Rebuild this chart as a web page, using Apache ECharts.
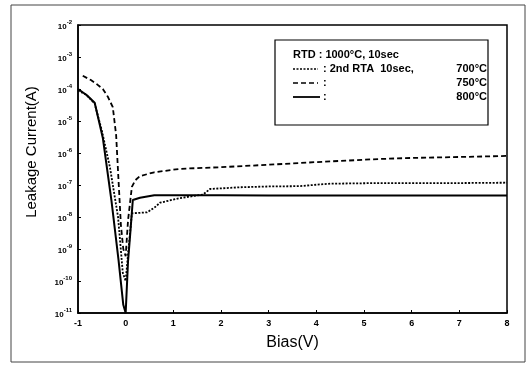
<!DOCTYPE html>
<html>
<head>
<meta charset="utf-8">
<script src="https://cdn.jsdelivr.net/npm/echarts@6/dist/echarts.min.js"></script>
<style>
  html, body { margin: 0; padding: 0; background: #fff; }
  #chart { width: 530px; height: 365px; }
</style>
</head>
<body>
<div id="chart"></div>
<script>
// bias (V) and leakage current (A)
var bias700 = [-1, -0.82, -0.65, -0.5, -0.33, -0.16, -0.06, 0, 0.06, 0.13, 0.45, 0.61, 0.72, 1.14, 1.28, 1.62, 1.77, 2.4, 3, 3.65, 4.1, 4.3, 5.33, 6, 7, 8];
var cur700 = [9e-5, 6.5e-5, 3.5e-5, 5e-6, 3.6e-7, 1e-8, 1.8e-10, 1e-10, 1e-9, 1.3e-8, 1.4e-8, 2e-8, 2.8e-8, 3.9e-8, 4.2e-8, 5e-8, 7.5e-8, 8.5e-8, 9e-8, 9.2e-8, 1.05e-7, 1.1e-7, 1.15e-7, 1.15e-7, 1.15e-7, 1.18e-7];

var bias750 = [-0.9, -0.73, -0.6, -0.48, -0.37, -0.27, -0.2, -0.15, -0.1, -0.05, 0, 0.05, 0.13, 0.2, 0.3, 0.6, 1.14, 2, 3, 4, 5.33, 6, 7, 8];
var cur750 = [2.6e-4, 1.9e-4, 1.4e-4, 1e-4, 5.6e-5, 2.7e-5, 3.6e-6, 1.4e-7, 5.6e-9, 1e-9, 6e-10, 8e-9, 8.7e-8, 1.4e-7, 1.9e-7, 2.5e-7, 3.2e-7, 3.6e-7, 4.3e-7, 5.2e-7, 6.5e-7, 7e-7, 7.5e-7, 8.1e-7];

var bias800 = [-1, -0.82, -0.65, -0.48, -0.3, -0.15, -0.05, 0, 0.05, 0.1, 0.15, 0.3, 0.6, 1, 2, 3, 4, 5, 6, 7, 8];
var cur800 = [1e-4, 6.5e-5, 3.7e-5, 3e-6, 3.4e-8, 4.6e-10, 1.8e-11, 1e-11, 4.2e-10, 3.6e-9, 3.4e-8, 4e-8, 4.8e-8, 4.8e-8, 4.8e-8, 4.7e-8, 4.7e-8, 4.7e-8, 4.7e-8, 4.7e-8, 4.7e-8];

var xTicks = [-1, 0, 1, 2, 3, 4, 5, 6, 7, 8];
var yMinExp = -11, yMaxExp = -2;

function zip(xs, ys) {
    return xs.map(function (x, i) { return [x, ys[i]]; });
}

const chart = echarts.init(document.getElementById('chart'));

var FONT = 'Liberation Sans';

option = {
    backgroundColor: '#fff',
    animation: false,
    grid: {
        left: 78, top: 25, right: 23, bottom: 52,
        show: true,
        borderColor: '#000',
        borderWidth: 1.5
    },
    xAxis: {
        type: 'value',
        min: xTicks[0],
        max: xTicks[xTicks.length - 1],
        interval: 1,
        name: 'Bias(V)',
        nameLocation: 'middle',
        nameGap: 22,
        nameTextStyle: { fontFamily: FONT, fontSize: 16, color: '#000' },
        axisLine: { onZero: false, lineStyle: { color: '#000', width: 1.5 } },
        axisTick: { inside: true, length: 3, lineStyle: { color: '#000' } },
        axisLabel: { fontFamily: FONT, fontSize: 9, fontWeight: 'bold', color: '#000', margin: 6 },
        splitLine: { show: false }
    },
    yAxis: {
        type: 'log',
        logBase: 10,
        min: Math.pow(10, yMinExp),
        max: Math.pow(10, yMaxExp),
        splitNumber: 9,
        axisLine: { onZero: false, lineStyle: { color: '#000', width: 1.5 } },
        axisTick: { inside: true, length: 3, lineStyle: { color: '#000' } },
        axisLabel: {
            margin: 6,
            formatter: function (v) {
                var e = Math.round(Math.log10(v));
                return '{b|10}{s|' + e + '}';
            },
            rich: {
                b: { fontFamily: FONT, fontSize: 8, fontWeight: 'bold', color: '#000', verticalAlign: 'bottom', lineHeight: 12 },
                s: { fontFamily: FONT, fontSize: 6, fontWeight: 'bold', color: '#000', verticalAlign: 'top', lineHeight: 12, padding: [0, 0, 4, 0] }
            }
        },
        splitLine: { show: false }
    },
    graphic: [
        // page border
        { type: 'rect', shape: { x: 11, y: 5, width: 514, height: 357 },
          style: { fill: 'none', stroke: '#444', lineWidth: 1 }, z: 0 },
        // y axis name
        { type: 'text', x: 32, y: 152, rotation: Math.PI / 2,
          style: { text: 'Leakage Current(A)', fontFamily: FONT, fontSize: 15, fill: '#000', align: 'center', verticalAlign: 'middle' } },
        // legend box
        { type: 'rect', shape: { x: 275, y: 40, width: 213, height: 85 },
          style: { fill: '#fff', stroke: '#000', lineWidth: 1.2 }, z: 10 },
        { type: 'text', x: 293, y: 55, z: 11,
          style: { text: 'RTD : 1000°C, 10sec', fontFamily: FONT, fontSize: 11, fontWeight: 'bold', fill: '#000', verticalAlign: 'middle' } },
        { type: 'line', z: 11, shape: { x1: 293, y1: 69, x2: 318, y2: 69 },
          style: { stroke: '#000', lineWidth: 1.5, lineDash: [2, 1.5] } },
        { type: 'text', x: 323, y: 69, z: 11,
          style: { text: ': 2nd RTA  10sec,', fontFamily: FONT, fontSize: 11, fontWeight: 'bold', fill: '#000', verticalAlign: 'middle' } },
        { type: 'text', x: 487, y: 69, z: 11,
          style: { text: '700°C', fontFamily: FONT, fontSize: 11, fontWeight: 'bold', fill: '#000', align: 'right', verticalAlign: 'middle' } },
        { type: 'line', z: 11, shape: { x1: 293, y1: 83, x2: 318, y2: 83 },
          style: { stroke: '#000', lineWidth: 1.5, lineDash: [5, 3] } },
        { type: 'text', x: 323, y: 83, z: 11,
          style: { text: ':', fontFamily: FONT, fontSize: 11, fontWeight: 'bold', fill: '#000', verticalAlign: 'middle' } },
        { type: 'text', x: 487, y: 83, z: 11,
          style: { text: '750°C', fontFamily: FONT, fontSize: 11, fontWeight: 'bold', fill: '#000', align: 'right', verticalAlign: 'middle' } },
        { type: 'line', z: 11, shape: { x1: 293, y1: 97, x2: 320, y2: 97 },
          style: { stroke: '#000', lineWidth: 1.8 } },
        { type: 'text', x: 323, y: 97, z: 11,
          style: { text: ':', fontFamily: FONT, fontSize: 11, fontWeight: 'bold', fill: '#000', verticalAlign: 'middle' } },
        { type: 'text', x: 487, y: 97, z: 11,
          style: { text: '800°C', fontFamily: FONT, fontSize: 11, fontWeight: 'bold', fill: '#000', align: 'right', verticalAlign: 'middle' } }
    ],
    series: [
        {
            name: '700°C', type: 'line', showSymbol: false,
            data: zip(bias700, cur700),
            lineStyle: { color: '#000', width: 1.8, type: [2, 1.5] }
        },
        {
            name: '750°C', type: 'line', showSymbol: false,
            data: zip(bias750, cur750),
            lineStyle: { color: '#000', width: 1.8, type: [5, 3] }
        },
        {
            name: '800°C', type: 'line', showSymbol: false,
            data: zip(bias800, cur800),
            lineStyle: { color: '#000', width: 2 }
        }
    ]
};

chart.setOption(option);
</script>
</body>
</html>
